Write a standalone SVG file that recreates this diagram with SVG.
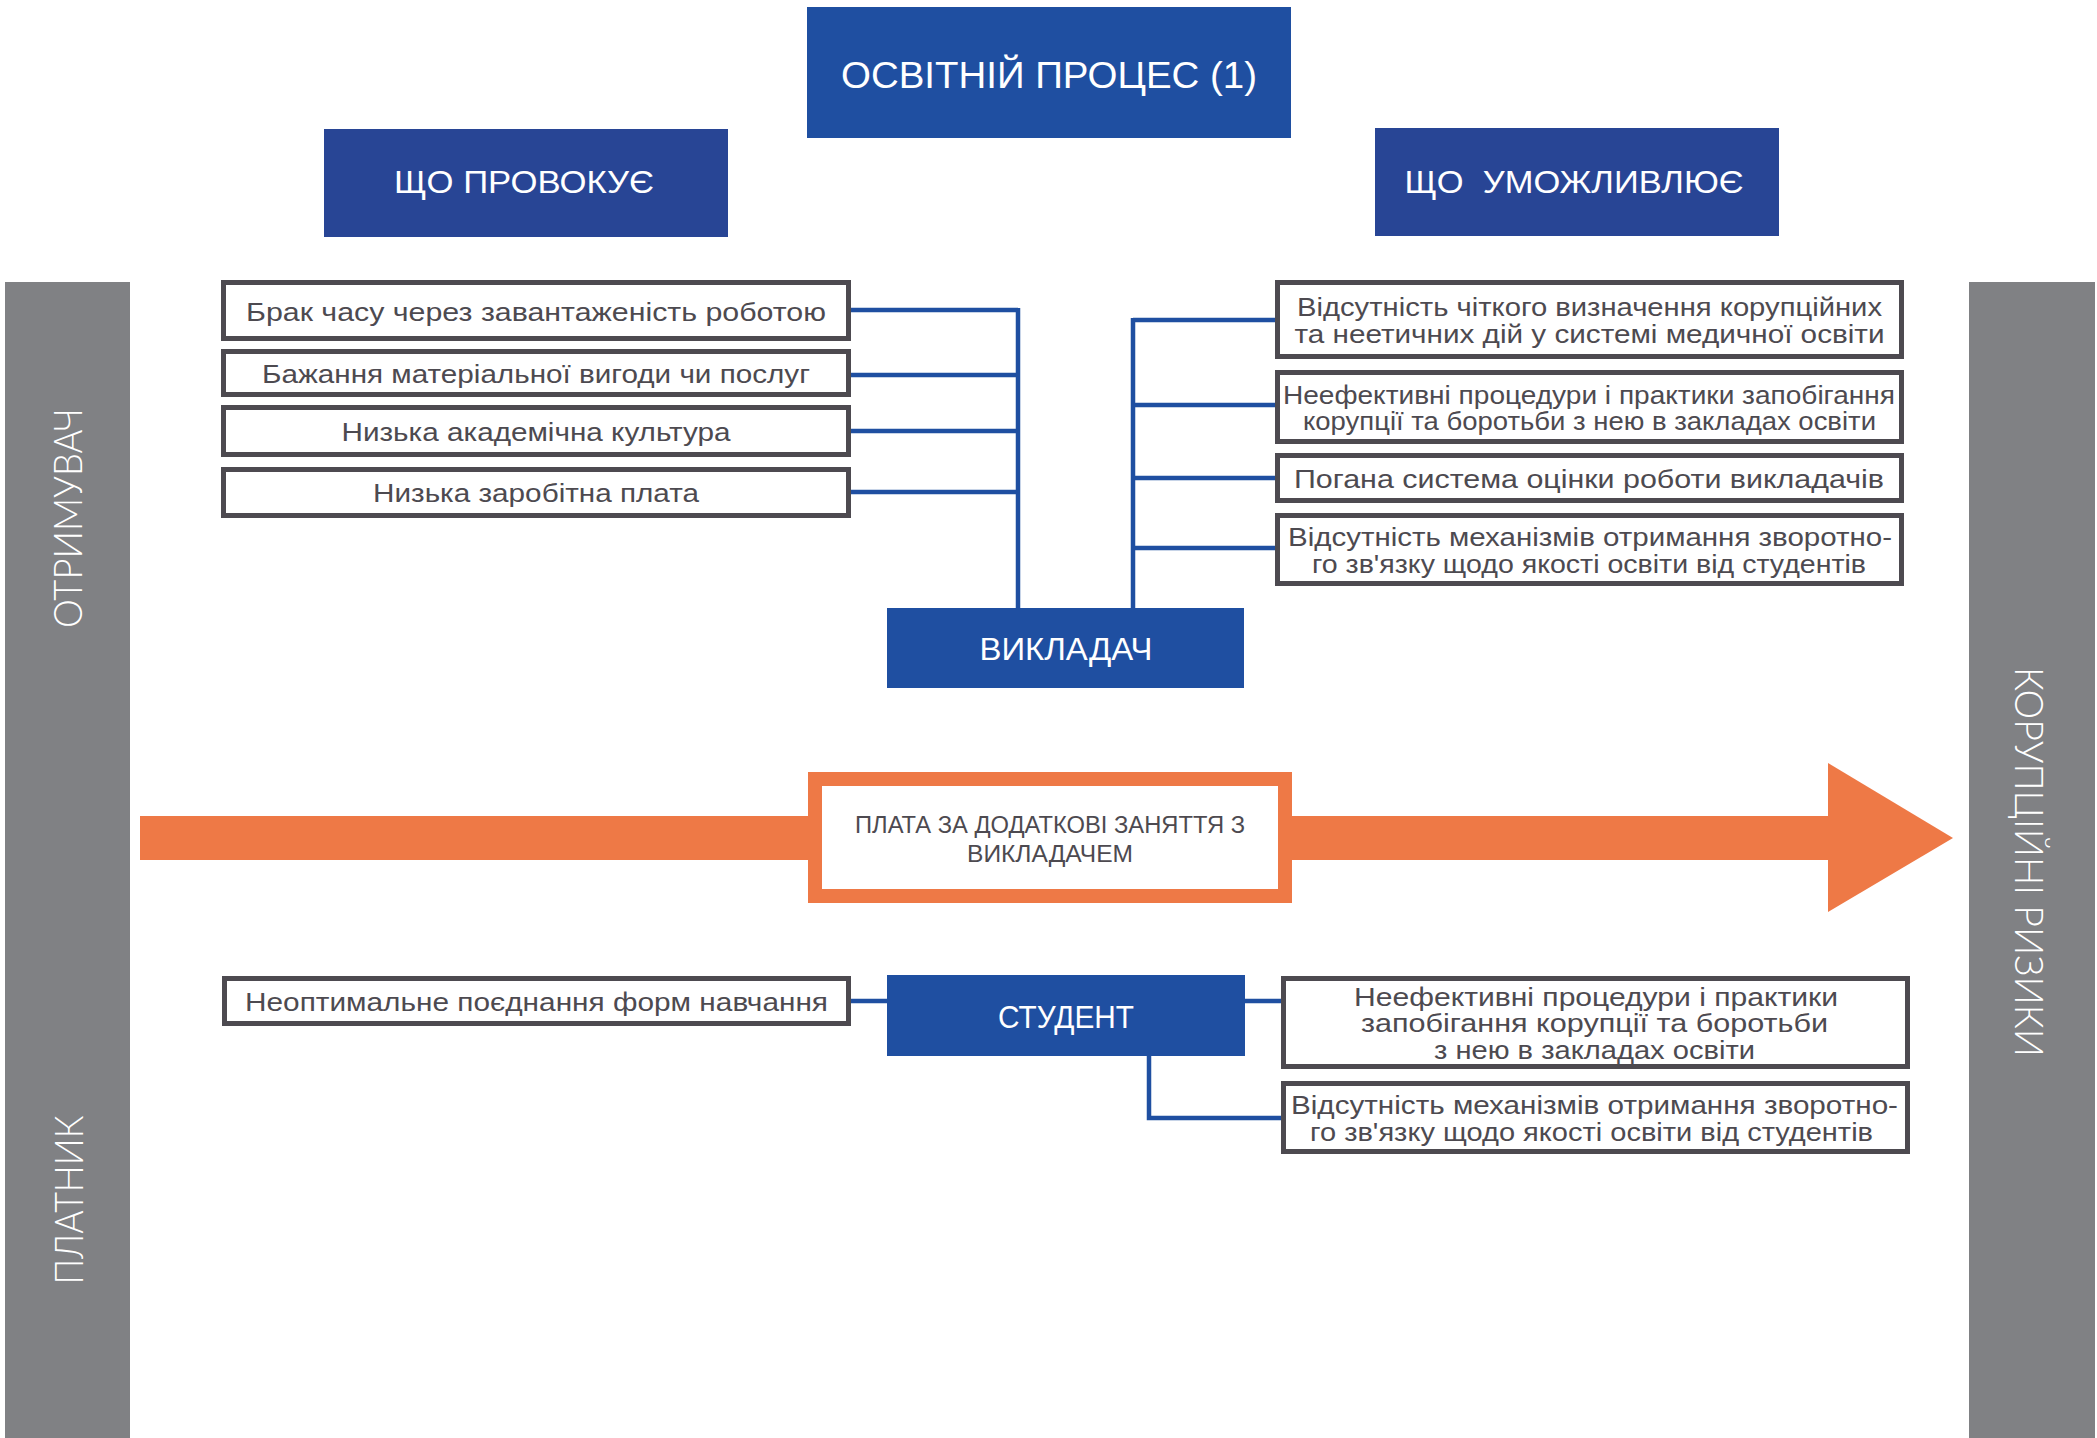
<svg xmlns="http://www.w3.org/2000/svg" width="2097" height="1438" viewBox="0 0 2097 1438">
  <style>
    .bg { fill: #ffffff; }
    .side { fill: #808184; }
    .side-label { fill: #ffffff; font-family: Lato, "Liberation Sans", sans-serif; font-weight: 300; font-size: 40px; text-anchor: middle; }
    .head { fill: #1f4fa1; }
    .head-dark { fill: #284595; }
    .head-text { fill: #ffffff; font-family: "Liberation Sans", Arial, sans-serif; text-anchor: middle; }
    .factor { fill: #ffffff; stroke: #4d4a50; stroke-width: 5; }
    .factor-text { fill: #4d4a50; font-family: "Liberation Sans", Arial, sans-serif; font-size: 26px; text-anchor: middle; }
    .link { fill: none; stroke: #1f4fa1; stroke-width: 4.5; }
    .flow { fill: #ee7946; }
    .pay { fill: #ffffff; stroke: #ee7946; stroke-width: 14; }
    .pay-text { fill: #4d4a50; font-family: "Liberation Sans", Arial, sans-serif; font-size: 23px; text-anchor: middle; }
  </style>

  <rect class="bg" x="0" y="0" width="2097" height="1438"/>

  <!-- side bars -->
  <g id="side-left">
    <rect class="side" x="5" y="282" width="125" height="1156"/>
    <text class="side-label" transform="translate(82,518) rotate(-90)" textLength="220" lengthAdjust="spacingAndGlyphs">ОТРИМУВАЧ</text>
    <text class="side-label" transform="translate(83,1200) rotate(-90)" textLength="169" lengthAdjust="spacingAndGlyphs">ПЛАТНИК</text>
  </g>
  <g id="side-right">
    <rect class="side" x="1969" y="282" width="126" height="1156"/>
    <text class="side-label" transform="translate(2015,862) rotate(90)" textLength="390" lengthAdjust="spacingAndGlyphs">КОРУПЦІЙНІ РИЗИКИ</text>
  </g>

  <!-- payment flow arrow -->
  <g id="flow-arrow">
    <rect class="flow" x="140" y="816" width="1690" height="44"/>
    <polygon class="flow" points="1828,763 1953,838 1828,912"/>
  </g>

  <!-- connectors -->
  <g id="connectors">
    <path class="link" d="M851,310 H1018 M851,375 H1018 M851,431 H1018 M851,492 H1018 M1018,308 V608"/>
    <path class="link" d="M1133,320 H1275 M1133,405 H1275 M1133,478 H1275 M1133,548 H1275 M1133,318 V608"/>
    <path class="link" d="M851,1001 H887 M1245,1001 H1281"/>
    <path class="link" d="M1149,1056 V1118 H1281"/>
  </g>

  <!-- headers -->
  <g id="title">
    <rect class="head" x="807" y="7" width="484" height="131"/>
    <text class="head-text" x="1049" y="88" font-size="37" textLength="416" lengthAdjust="spacingAndGlyphs">ОСВІТНІЙ ПРОЦЕС (1)</text>
  </g>
  <g id="provokes">
    <rect class="head-dark" x="324" y="129" width="404" height="108"/>
    <text class="head-text" x="524" y="193" font-size="32" textLength="260" lengthAdjust="spacingAndGlyphs">ЩО ПРОВОКУЄ</text>
  </g>
  <g id="enables">
    <rect class="head-dark" x="1375" y="128" width="404" height="108"/>
    <text class="head-text" x="1574" y="193" font-size="32" textLength="339" lengthAdjust="spacingAndGlyphs" xml:space="preserve">ЩО  УМОЖЛИВЛЮЄ</text>
  </g>

  <!-- actors -->
  <g id="teacher">
    <rect class="head" x="887" y="608" width="357" height="80"/>
    <text class="head-text" x="1066" y="660" font-size="32" textLength="173" lengthAdjust="spacingAndGlyphs">ВИКЛАДАЧ</text>
  </g>
  <g id="student">
    <rect class="head" x="887" y="975" width="358" height="81"/>
    <text class="head-text" x="1066" y="1028" font-size="32" textLength="136" lengthAdjust="spacingAndGlyphs">СТУДЕНТ</text>
  </g>

  <!-- teacher: provoking factors -->
  <g id="tp1">
    <rect class="factor" x="223.5" y="282.5" width="625" height="56"/>
    <text class="factor-text" x="536" y="321" textLength="580" lengthAdjust="spacingAndGlyphs">Брак часу через завантаженість роботою</text>
  </g>
  <g id="tp2">
    <rect class="factor" x="223.5" y="351.5" width="625" height="43"/>
    <text class="factor-text" x="536" y="383" textLength="548" lengthAdjust="spacingAndGlyphs">Бажання матеріальної вигоди чи послуг</text>
  </g>
  <g id="tp3">
    <rect class="factor" x="223.5" y="407.5" width="625" height="47"/>
    <text class="factor-text" x="536" y="441" textLength="389" lengthAdjust="spacingAndGlyphs">Низька академічна культура</text>
  </g>
  <g id="tp4">
    <rect class="factor" x="223.5" y="469.5" width="625" height="46"/>
    <text class="factor-text" x="536" y="502" textLength="326" lengthAdjust="spacingAndGlyphs">Низька заробітна плата</text>
  </g>

  <!-- teacher: enabling factors -->
  <g id="te1">
    <rect class="factor" x="1277.5" y="282.5" width="624" height="74"/>
    <text class="factor-text" x="1589.5" y="316" textLength="585" lengthAdjust="spacingAndGlyphs">Відсутність чіткого визначення корупційних</text>
    <text class="factor-text" x="1589.5" y="343" textLength="590" lengthAdjust="spacingAndGlyphs">та неетичних дій у системі медичної освіти</text>
  </g>
  <g id="te2">
    <rect class="factor" x="1277.5" y="372.5" width="624" height="69"/>
    <text class="factor-text" x="1589" y="404" textLength="612" lengthAdjust="spacingAndGlyphs">Неефективні процедури і практики запобігання</text>
    <text class="factor-text" x="1589.5" y="430" textLength="573" lengthAdjust="spacingAndGlyphs">корупції та боротьби з нею в закладах освіти</text>
  </g>
  <g id="te3">
    <rect class="factor" x="1277.5" y="455.5" width="624" height="45"/>
    <text class="factor-text" x="1589" y="488" textLength="590" lengthAdjust="spacingAndGlyphs">Погана система оцінки роботи викладачів</text>
  </g>
  <g id="te4">
    <rect class="factor" x="1277.5" y="515.5" width="624" height="68"/>
    <text class="factor-text" x="1590" y="546" textLength="604" lengthAdjust="spacingAndGlyphs">Відсутність механізмів отримання зворотно-</text>
    <text class="factor-text" x="1589" y="573" textLength="554" lengthAdjust="spacingAndGlyphs">го зв'язку щодо якості освіти від студентів</text>
  </g>

  <!-- payment -->
  <g id="payment">
    <rect class="pay" x="815" y="779" width="470" height="117"/>
    <text class="pay-text" x="1050" y="833" textLength="390" lengthAdjust="spacingAndGlyphs">ПЛАТА ЗА ДОДАТКОВІ ЗАНЯТТЯ З</text>
    <text class="pay-text" x="1050" y="862" textLength="166" lengthAdjust="spacingAndGlyphs">ВИКЛАДАЧЕМ</text>
  </g>

  <!-- student factors -->
  <g id="sp1">
    <rect class="factor" x="224.5" y="978.5" width="624" height="45"/>
    <text class="factor-text" x="536.5" y="1011" textLength="583" lengthAdjust="spacingAndGlyphs">Неоптимальне поєднання форм навчання</text>
  </g>
  <g id="se1">
    <rect class="factor" x="1283.5" y="978.5" width="624" height="88"/>
    <text class="factor-text" x="1596" y="1006" textLength="484" lengthAdjust="spacingAndGlyphs">Неефективні процедури і практики</text>
    <text class="factor-text" x="1594.5" y="1032" textLength="467" lengthAdjust="spacingAndGlyphs">запобігання корупції та боротьби</text>
    <text class="factor-text" x="1594.5" y="1059" textLength="321" lengthAdjust="spacingAndGlyphs">з нею в закладах освіти</text>
  </g>
  <g id="se2">
    <rect class="factor" x="1283.5" y="1083.5" width="624" height="68"/>
    <text class="factor-text" x="1594.5" y="1114" textLength="607" lengthAdjust="spacingAndGlyphs">Відсутність механізмів отримання зворотно-</text>
    <text class="factor-text" x="1591.5" y="1141" textLength="563" lengthAdjust="spacingAndGlyphs">го зв'язку щодо якості освіти від студентів</text>
  </g>
</svg>
